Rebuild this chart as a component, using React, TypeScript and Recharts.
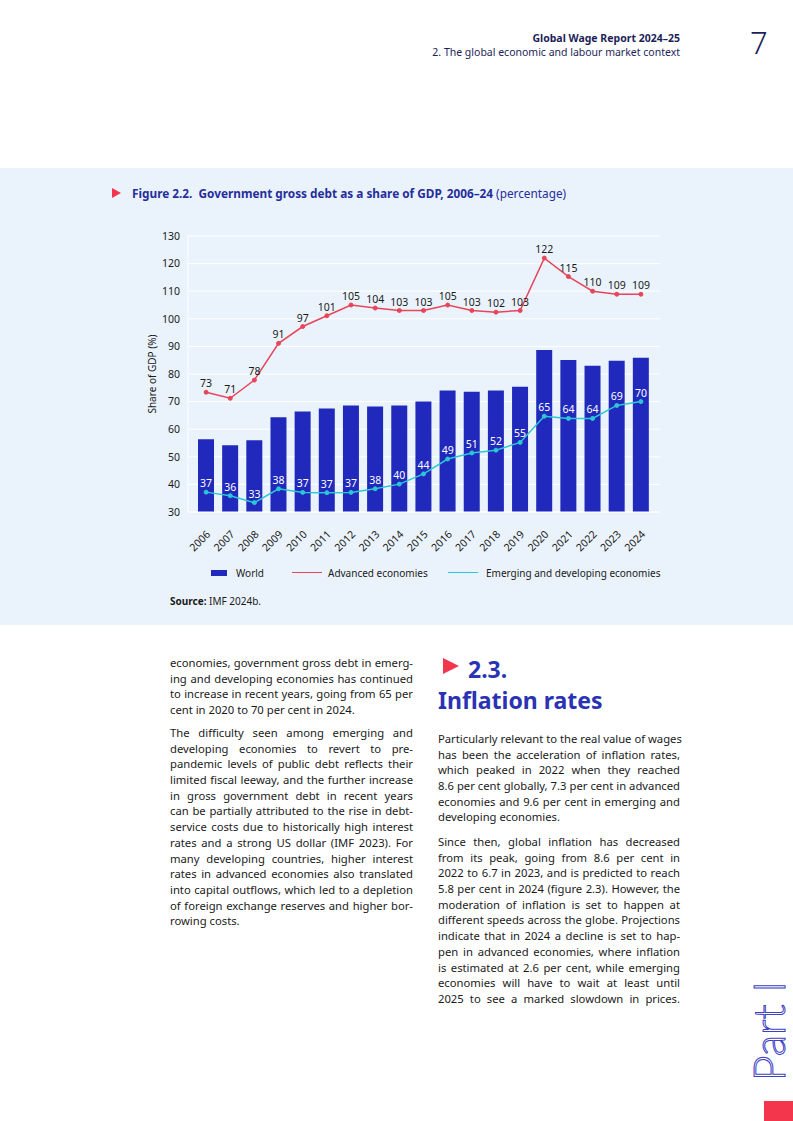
import React from 'react';
import { ComposedChart, Bar, Line, XAxis, YAxis, CartesianGrid, LabelList } from 'recharts';

const years = ['2006','2007','2008','2009','2010','2011','2012','2013','2014','2015','2016','2017','2018','2019','2020','2021','2022','2023','2024'];
const world = [56.4,54.2,56.0,64.3,66.4,67.5,68.6,68.2,68.6,70.0,74.0,73.6,74.0,75.4,88.7,85.1,83.0,84.8,85.9];
const advanced = [73.4,71.2,77.8,91.1,97.2,101.1,105.0,103.9,103.0,103.0,105.0,103.0,102.4,103.0,122.0,115.3,110.0,108.9,108.9];
const emerging = [37.2,35.9,33.4,38.4,37.1,37.0,37.1,38.4,40.1,43.8,49.2,51.4,52.4,55.2,64.7,63.9,63.9,68.6,70.0];
const yTicks = [30,40,50,60,70,80,90,100,110,120,130];

const data = years.map((y, i) => ({ year: y, world: world[i], advanced: advanced[i], emerging: emerging[i] }));

const FONT = '"Noto Sans", "Open Sans", sans-serif';
const NAVY = '#1d1f5a';
const BAR = '#2129bd';
const RED = '#e8455a';
const CYAN = '#2cc7d4';

const XTick = (props: any) => {
  const { x, y, payload } = props;
  return (
    <text x={x + 5} y={y + 15} transform={`rotate(-45 ${x + 5} ${y + 15})`} textAnchor="end" fontSize={10.5} fill="#1a1a1a" fontFamily={FONT}>
      {payload.value}
    </text>
  );
};

const roundFmt = (v: any) => Math.round(Number(v)).toString();

const leftLines1 = [
  'economies, government gross debt in emerg-',
  'ing and developing economies has continued',
  'to increase in recent years, going from 65 per',
  'cent in 2020 to 70 per cent in 2024.',
];
const leftLines2 = [
  'The difficulty seen among emerging and',
  'developing economies to revert to pre-',
  'pandemic levels of public debt reflects their',
  'limited fiscal leeway, and the further increase',
  'in gross government debt in recent years',
  'can be partially attributed to the rise in debt-',
  'service costs due to historically high interest',
  'rates and a strong US dollar (IMF 2023). For',
  'many developing countries, higher interest',
  'rates in advanced economies also translated',
  'into capital outflows, which led to a depletion',
  'of foreign exchange reserves and higher bor-',
  'rowing costs.',
];
const rightLines1 = [
  'Particularly relevant to the real value of wages',
  'has been the acceleration of inflation rates,',
  'which peaked in 2022 when they reached',
  '8.6 per cent globally, 7.3 per cent in advanced',
  'economies and 9.6 per cent in emerging and',
  'developing economies.',
];
const rightLines2 = [
  'Since then, global inflation has decreased',
  'from its peak, going from 8.6 per cent in',
  '2022 to 6.7 in 2023, and is predicted to reach',
  '5.8 per cent in 2024 (figure 2.3). However, the',
  'moderation of inflation is set to happen at',
  'different speeds across the globe. Projections',
  'indicate that in 2024 a decline is set to hap-',
  'pen in advanced economies, where inflation',
  'is estimated at 2.6 per cent, while emerging',
  'economies will have to wait at least until',
  '2025 to see a marked slowdown in prices.',
];

const Para = ({ lines, left, top, width, lastJustify }: { lines: string[]; left: number; top: number; width: number; lastJustify?: boolean }) => (
  <div style={{ position: 'absolute', left, top, width }}>
    {lines.map((l, i) => {
      const last = i === lines.length - 1 && !lastJustify;
      return (
        <div key={i} style={{ height: 15.7, lineHeight: '15.7px', fontSize: 11.25, color: '#1a1a1a', textAlign: last ? 'left' : 'justify', textAlignLast: last ? 'left' : 'justify', whiteSpace: 'nowrap', fontFamily: FONT } as any}>
          {l}
        </div>
      );
    })}
  </div>
);

export default function App() {
  return (
    <div style={{ position: 'absolute', left: 0, top: 0, width: 793, height: 1121, background: '#fff', fontFamily: FONT, overflow: 'hidden' }}>
      {/* header */}
      <div style={{ position: 'absolute', right: 113, top: 31, textAlign: 'right', color: NAVY, fontSize: 10.5, lineHeight: '14px' }}>
        <div style={{ fontWeight: 700 }}>Global Wage Report 2024–25</div>
        <div>2. The global economic and labour market context</div>
      </div>
      <div style={{ position: 'absolute', left: 750, top: 22, fontSize: 31, fontWeight: 300, color: NAVY, lineHeight: '40px' }}>7</div>

      {/* panel */}
      <div style={{ position: 'absolute', left: 0, top: 168, width: 793, height: 457, background: '#eaf3fc' }} />

      {/* title */}
      <div style={{ position: 'absolute', left: 112, top: 188, width: 0, height: 0, borderTop: '5.5px solid transparent', borderBottom: '5.5px solid transparent', borderLeft: '9px solid #f2364c' }} />
      <div style={{ position: 'absolute', left: 132, top: 185, fontSize: 11.8, color: '#262d9c', whiteSpace: 'nowrap', lineHeight: '16px' }}>
        <span style={{ fontWeight: 700 }}>Figure 2.2.&nbsp; Government gross debt as a share of GDP, 2006–24</span> (percentage)
      </div>

      {/* chart */}
      <div style={{ position: 'absolute', left: 140, top: 225 }}>
        <ComposedChart width={530} height={339} data={data} margin={{ top: 11, right: 10, left: 8, bottom: 0 }} barSize={16}>
          <CartesianGrid horizontal={true} vertical={false} stroke="#ffffff" strokeWidth={1} />
          <XAxis dataKey="year" padding={{ left: 6, right: 7 }} axisLine={{ stroke: '#ffffff' }} tickLine={false} tick={<XTick />} interval={0} height={52} />
          <YAxis domain={[30, 130]} ticks={yTicks} width={40} axisLine={{ stroke: '#ffffff' }} tickLine={false} tick={{ fontSize: 10.5, fill: '#1a1a1a', fontFamily: FONT }}
            label={{ value: 'Share of GDP (%)', angle: -90, position: 'insideLeft', offset: 4, style: { fontSize: 10, fill: '#1a1a1a', fontFamily: FONT, textAnchor: 'middle' } }} />
          <Bar dataKey="world" fill={BAR} isAnimationActive={false} />
          <Line dataKey="advanced" stroke={RED} strokeWidth={1.5} dot={{ r: 2, fill: RED, stroke: RED, strokeWidth: 1 }} isAnimationActive={false}>
            <LabelList dataKey="advanced" position="top" offset={5} formatter={roundFmt} style={{ fontSize: 10.5, fill: '#1a1a1a', fontFamily: FONT }} />
          </Line>
          <Line dataKey="emerging" stroke={CYAN} strokeWidth={1.5} dot={{ r: 2, fill: CYAN, stroke: CYAN, strokeWidth: 1 }} isAnimationActive={false}>
            <LabelList dataKey="emerging" position="top" offset={5} formatter={roundFmt} style={{ fontSize: 10.5, fill: '#ffffff', fontFamily: FONT }} />
          </Line>
        </ComposedChart>
      </div>

      {/* legend */}
      <div style={{ position: 'absolute', left: 211, top: 570, width: 16, height: 6, background: BAR }} />
      <div style={{ position: 'absolute', left: 236, top: 566, fontSize: 10, color: '#1a1a1a', lineHeight: '14px' }}>World</div>
      <div style={{ position: 'absolute', left: 292, top: 572, width: 30, height: 1.3, background: RED }} />
      <div style={{ position: 'absolute', left: 328, top: 566, fontSize: 10, color: '#1a1a1a', lineHeight: '14px' }}>Advanced economies</div>
      <div style={{ position: 'absolute', left: 448, top: 572, width: 30, height: 1.3, background: CYAN }} />
      <div style={{ position: 'absolute', left: 486, top: 566, fontSize: 10, color: '#1a1a1a', lineHeight: '14px' }}>Emerging and developing economies</div>

      {/* source */}
      <div style={{ position: 'absolute', left: 170, top: 594, fontSize: 10, color: '#1a1a1a', lineHeight: '14px' }}>
        <span style={{ fontWeight: 700 }}>Source:</span> IMF 2024b.
      </div>

      {/* left column */}
      <Para lines={leftLines1} left={170} top={655} width={243} />
      <Para lines={leftLines2} left={170} top={725} width={243} />

      {/* right column heading */}
      <div style={{ position: 'absolute', left: 443, top: 658, width: 0, height: 0, borderTop: '8.5px solid transparent', borderBottom: '8.5px solid transparent', borderLeft: '16px solid #f2364c' }} />
      <div style={{ position: 'absolute', left: 438, top: 654, fontSize: 23, fontWeight: 700, color: '#2a33b4', lineHeight: '31px' }}>
        <div style={{ paddingLeft: 30 }}>2.3.</div>
        <div>Inflation rates</div>
      </div>
      <Para lines={rightLines1} left={438} top={731} width={242} />
      <Para lines={rightLines2} left={438} top={834} width={242} lastJustify />

      {/* Part I */}
      <div style={{ position: 'absolute', left: 742, top: 1081, transformOrigin: '0 0', transform: 'rotate(-90deg)', fontSize: 44, fontWeight: 300, color: 'transparent', WebkitTextStroke: '1px #3b40c4', whiteSpace: 'nowrap', lineHeight: '52px', fontFamily: 'Lato, "Open Sans", sans-serif' } as any}>Part I</div>
      <div style={{ position: 'absolute', left: 764, top: 1101, width: 29, height: 20, background: '#f4364c' }} />
    </div>
  );
}
